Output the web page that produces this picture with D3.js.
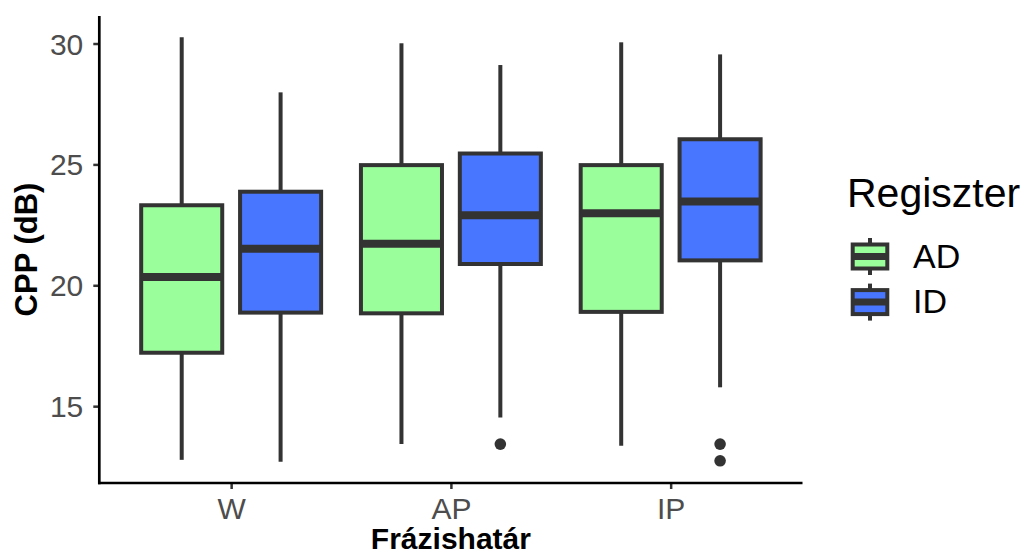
<!DOCTYPE html>
<html>
<head>
<meta charset="utf-8">
<script src="https://cdn.jsdelivr.net/npm/d3@7"></script>
<style>
  body { margin: 0; background: #fff; }
  text { font-family: "Liberation Sans", Arial, sans-serif; }
</style>
</head>
<body>
<div id="vis-container"></div>
<script>
//width and height
var w = 1030;
var h = 556;

//data
var categories = ["W", "AP", "IP"];
var groups = ["AD", "ID"];
var groupColors = ["#9AFF9A", "#4876FF"];
var yTicks = [15, 20, 25, 30];

// [lower whisker, q1, median, q3, upper whisker] per category, for each group
var statsAD = [
    [12.78, 17.21, 20.34, 23.31, 30.26],
    [13.43, 18.84, 21.72, 24.97, 30.01],
    [13.36, 18.90, 22.98, 24.97, 30.05]
];
var statsID = [
    [12.70, 18.87, 21.51, 23.87, 27.98],
    [14.53, 20.88, 22.90, 25.45, 29.11],
    [15.78, 21.03, 23.47, 26.04, 29.55]
];
var outliersAD = [[], [], []];
var outliersID = [[], [13.43], [13.43, 12.74]];

var rows = [];
categories.forEach(function (c, i) {
    rows.push({ cat: c, grp: "AD", s: statsAD[i], out: outliersAD[i] });
    rows.push({ cat: c, grp: "ID", s: statsID[i], out: outliersID[i] });
});

var plotLeft = 99.3, plotRight = 802.5, plotTop = 16, plotBottom = 483;

//scales (ggplot style 5% expansion)
var allVals = [];
rows.forEach(function (r) { allVals = allVals.concat(r.s, r.out); });
var lo = d3.min(allVals), hi = d3.max(allVals), rng = hi - lo;
var yScale = d3.scaleLinear()
    .domain([lo - 0.05 * rng, hi + 0.05 * rng])
    .range([plotBottom, plotTop]);

var xScale = d3.scalePoint()
    .domain(categories)
    .range([plotLeft, plotRight])
    .padding(0.6);
var step = xScale.step();

var dodge = d3.scaleBand()
    .domain(groups)
    .range([-0.45 * step, 0.45 * step]);
var boxW = dodge.bandwidth() * 0.86;

var color = d3.scaleOrdinal().domain(groups).range(groupColors);

var svg = d3.select("#vis-container")
    .append("svg")
    .attr("width", w)
    .attr("height", h);

var dark = "#333333";

// boxes
var box = svg.selectAll(".box")
    .data(rows)
    .enter().append("g")
    .attr("class", "box")
    .attr("transform", function (d) {
        return "translate(" + (xScale(d.cat) + dodge(d.grp) + dodge.bandwidth() / 2) + ",0)";
    });

// whiskers
box.append("line")
    .attr("x1", 0).attr("x2", 0)
    .attr("y1", function (d) { return yScale(d.s[4]); })
    .attr("y2", function (d) { return yScale(d.s[3]); })
    .attr("stroke", dark).attr("stroke-width", 4);
box.append("line")
    .attr("x1", 0).attr("x2", 0)
    .attr("y1", function (d) { return yScale(d.s[1]); })
    .attr("y2", function (d) { return yScale(d.s[0]); })
    .attr("stroke", dark).attr("stroke-width", 4);

box.append("rect")
    .attr("x", -boxW / 2 + 2)
    .attr("width", boxW - 4)
    .attr("y", function (d) { return yScale(d.s[3]); })
    .attr("height", function (d) { return yScale(d.s[1]) - yScale(d.s[3]); })
    .attr("fill", function (d) { return color(d.grp); })
    .attr("stroke", dark).attr("stroke-width", 4);

box.append("line")
    .attr("x1", -boxW / 2 + 2).attr("x2", boxW / 2 - 2)
    .attr("y1", function (d) { return yScale(d.s[2]); })
    .attr("y2", function (d) { return yScale(d.s[2]); })
    .attr("stroke", dark).attr("stroke-width", 8);

box.selectAll(".dot")
    .data(function (d) { return d.out; })
    .enter().append("circle")
    .attr("class", "dot")
    .attr("cx", 0)
    .attr("cy", function (v) { return yScale(v); })
    .attr("r", 5.8)
    .attr("fill", dark);

//axes
var yAxis = d3.axisLeft(yScale).tickValues(yTicks).tickSize(6).tickPadding(10);
var gy = svg.append("g")
    .attr("transform", "translate(" + plotLeft + ",0)")
    .call(yAxis);
gy.select(".domain").remove();
gy.append("line")
    .attr("x1", 0).attr("x2", 0)
    .attr("y1", plotTop).attr("y2", plotBottom + 1.3)
    .attr("stroke", "#000").attr("stroke-width", 2.7);
gy.selectAll(".tick line").attr("stroke", dark).attr("stroke-width", 2.5);
gy.selectAll(".tick text")
    .attr("fill", "#4D4D4D")
    .style("font-size", "30px")
    .attr("dy", "0.35em");

var xAxis = d3.axisBottom(xScale).tickSize(6).tickPadding(9);
var gx = svg.append("g")
    .attr("transform", "translate(0," + plotBottom + ")")
    .call(xAxis);
gx.select(".domain").remove();
gx.append("line")
    .attr("x1", plotLeft - 1.3).attr("x2", plotRight)
    .attr("y1", 0).attr("y2", 0)
    .attr("stroke", "#000").attr("stroke-width", 2.7);
gx.selectAll(".tick line").attr("stroke", dark).attr("stroke-width", 2.5);
gx.selectAll(".tick text")
    .attr("fill", "#4D4D4D")
    .style("font-size", "30px")
    .attr("dy", "0.71em");

//axis titles
svg.append("text")
    .attr("x", (plotLeft + plotRight) / 2)
    .attr("y", 549)
    .attr("text-anchor", "middle")
    .style("font-size", "30px")
    .style("font-weight", "bold")
    .text("Frázishatár");

svg.append("text")
    .attr("transform", "translate(37," + ((plotTop + plotBottom) / 2) + ") rotate(-90)")
    .attr("text-anchor", "middle")
    .style("font-size", "31px")
    .style("font-weight", "bold")
    .text("CPP (dB)");

//legend
svg.append("text")
    .attr("x", 847)
    .attr("y", 207)
    .style("font-size", "41px")
    .text("Regiszter");

var legend = svg.selectAll(".legend")
    .data(groups)
    .enter().append("g")
    .attr("class", "legend")
    .attr("transform", function (d, i) { return "translate(870," + (256.5 + i * 45.6) + ")"; });

legend.append("line")
    .attr("x1", 0).attr("x2", 0)
    .attr("y1", -18.5).attr("y2", 18.5)
    .attr("stroke", dark).attr("stroke-width", 4);
legend.append("rect")
    .attr("x", -17.3).attr("y", -12)
    .attr("width", 34.6).attr("height", 24)
    .attr("fill", function (d) { return color(d); })
    .attr("stroke", dark).attr("stroke-width", 4);
legend.append("line")
    .attr("x1", -17.3).attr("x2", 17.3)
    .attr("y1", 0).attr("y2", 0)
    .attr("stroke", dark).attr("stroke-width", 7);

legend.append("text")
    .attr("x", 43)
    .attr("y", 11)
    .style("font-size", "34px")
    .text(function (d) { return d; });
</script>
</body>
</html>
